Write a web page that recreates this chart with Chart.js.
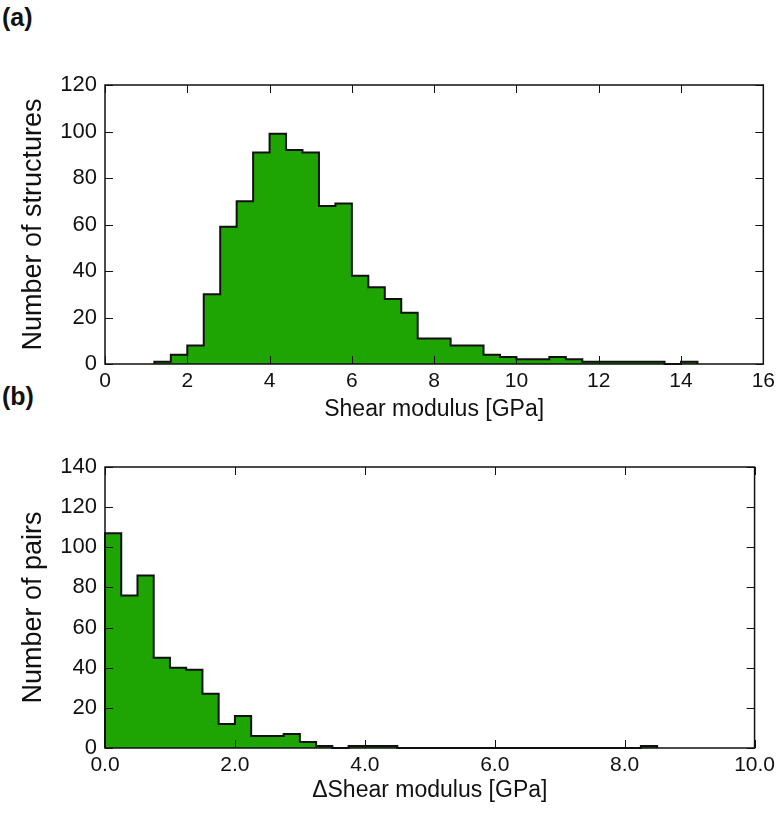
<!DOCTYPE html>
<html>
<head>
<meta charset="utf-8">
<script src="https://cdn.jsdelivr.net/npm/chart.js@4.4.1/dist/chart.umd.min.js"></script>
<style>
  body { margin: 0; background: #fff; }
  .panel { position: absolute; left: 0; }
  .tag { position: absolute; left: 2px; font: bold 25px "Liberation Sans", Arial, sans-serif; color: #111; }
</style>
</head>
<body>
<div class="tag" style="top:3px">(a)</div>
<div class="tag" style="top:382px">(b)</div>
<div class="panel" style="top:0"><canvas id="chartA" width="780" height="430"></canvas></div>
<div class="panel" style="top:430px"><canvas id="chartB" width="780" height="383"></canvas></div>
<script>
//------------- data -------------
// (a) shear modulus histogram, bin edges in GPa
const shearEdges = [1.2, 1.6, 2.0, 2.4, 2.8, 3.2, 3.6, 4.0, 4.4, 4.8, 5.2, 5.6, 6.0, 6.4, 6.8, 7.2, 7.6,
  8.0, 8.4, 8.8, 9.2, 9.6, 10.0, 10.4, 10.8, 11.2, 11.6, 12.0, 12.4, 12.8, 13.2, 13.6, 14.0, 14.4];
const shearCounts = [1, 4, 8, 30, 59, 70, 91, 99, 92, 91, 68, 69, 38, 33, 28, 22, 11,
  11, 8, 8, 4, 3, 2, 2, 3, 2, 1, 1, 1, 1, 1, 0, 1];
const shearXTicks = [0, 2, 4, 6, 8, 10, 12, 14, 16];
const shearYTicks = [0, 20, 40, 60, 80, 100, 120];

// (b) delta shear modulus histogram
const deltaEdges = [0, 0.25, 0.5, 0.75, 1.0, 1.25, 1.5, 1.75, 2.0, 2.25, 2.5, 2.75, 3.0, 3.25, 3.5, 3.75,
  4.0, 4.25, 4.5, 4.75, 5.0, 5.25, 5.5, 5.75, 6.0, 6.25, 6.5, 6.75, 7.0, 7.25, 7.5, 7.75, 8.0, 8.25, 8.5];
const deltaCounts = [107, 76, 86, 45, 40, 39, 27, 12, 16, 6, 6, 7, 3, 1, 0, 1,
  1, 1, 0, 0, 0, 0, 0, 0, 0, 0, 0, 0, 0, 0, 0, 0, 0, 1];
const deltaXTicks = [0, 2, 4, 6, 8, 10];
const deltaYTicks = [0, 20, 40, 60, 80, 100, 120, 140];

const FILL = '#1fa503';
const FONT = '"Liberation Sans", Arial, sans-serif';

//------------- helpers -------------
function stepPoints(edges, counts) {
  const pts = [{x: edges[0], y: 0}];
  counts.forEach((c, i) => pts.push({x: edges[i], y: c}));
  pts.push({x: edges[edges.length - 1], y: 0});
  return pts;
}

// matplotlib style frame with inward ticks on all four sides
const frameTicks = {
  id: 'frameTicks',
  afterDatasetsDraw(chart) {
    const {ctx, chartArea: a, scales: {x, y}} = chart;
    ctx.save();
    ctx.strokeStyle = '#111';
    ctx.lineWidth = 1;
    ctx.beginPath();
    x.ticks.forEach(t => {
      const px = Math.round(x.getPixelForValue(t.value)) + 0.5;
      ctx.moveTo(px, a.bottom); ctx.lineTo(px, a.bottom - 8);
      ctx.moveTo(px, a.top); ctx.lineTo(px, a.top + 8);
    });
    y.ticks.forEach(t => {
      const py = Math.round(y.getPixelForValue(t.value)) + 0.5;
      ctx.moveTo(a.left, py); ctx.lineTo(a.left + 8, py);
      ctx.moveTo(a.right, py); ctx.lineTo(a.right - 8, py);
    });
    ctx.stroke();
    ctx.lineWidth = 1.5;
    ctx.strokeRect(a.left, a.top, a.width, a.height);
    ctx.restore();
  }
};

function makeHist(canvasId, cfg) {
  return new Chart(document.getElementById(canvasId), {
    type: 'line',
    data: {
      datasets: [{
        data: stepPoints(cfg.edges, cfg.counts),
        stepped: true,
        fill: 'origin',
        backgroundColor: FILL,
        borderColor: '#111',
        borderWidth: 2,
        pointRadius: 0,
        clip: 2
      }]
    },
    options: {
      responsive: false,
      animation: false,
      devicePixelRatio: 1,
      layout: {padding: cfg.padding},
      plugins: {legend: {display: false}, tooltip: {enabled: false}},
      scales: {
        x: {
          type: 'linear',
          min: cfg.xTicks[0],
          max: cfg.xTicks[cfg.xTicks.length - 1],
          afterBuildTicks: s => { s.ticks = cfg.xTicks.map(v => ({value: v})); },
          afterFit: s => { s.height = cfg.xHeight; },
          grid: {display: false, drawTicks: false},
          border: {display: false},
          ticks: {
            autoSkip: false, maxRotation: 0, padding: 5, color: '#111',
            font: {family: FONT, size: 21},
            callback: cfg.xFormat
          },
          title: {
            display: true, text: cfg.xTitle, color: '#111',
            font: {family: FONT, size: 23}, padding: {bottom: cfg.xTitlePad}
          }
        },
        y: {
          min: cfg.yTicks[0],
          max: cfg.yTicks[cfg.yTicks.length - 1],
          afterBuildTicks: s => { s.ticks = cfg.yTicks.map(v => ({value: v})); },
          afterFit: s => { s.width = 105; },
          grid: {display: false, drawTicks: false},
          border: {display: false},
          ticks: {padding: 8, color: '#111', font: {family: FONT, size: 22}},
          title: {
            display: true, text: cfg.yTitle, color: '#111',
            font: {family: FONT, size: 27}, padding: {top: 17}
          }
        }
      }
    },
    plugins: [frameTicks]
  });
}

//------------- charts -------------
makeHist('chartA', {
  edges: shearEdges, counts: shearCounts,
  xTicks: shearXTicks, yTicks: shearYTicks,
  xFormat: v => String(v),
  xTitle: 'Shear modulus [GPa]', yTitle: 'Number of structures',
  padding: {top: 85, right: 14, left: 0, bottom: 0},
  xHeight: 66, xTitlePad: 7
});

makeHist('chartB', {
  edges: deltaEdges, counts: deltaCounts,
  xTicks: deltaXTicks, yTicks: deltaYTicks,
  xFormat: v => v.toFixed(1),
  xTitle: '\u0394Shear modulus [GPa]', yTitle: 'Number of pairs',
  padding: {top: 37, right: 23, left: 0, bottom: 0},
  xHeight: 65, xTitlePad: 9
});
</script>
</body>
</html>
